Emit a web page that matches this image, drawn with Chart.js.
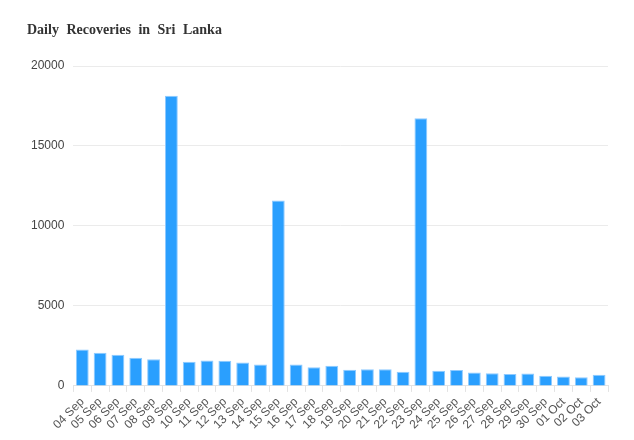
<!DOCTYPE html>
<html>
<head>
<meta charset="utf-8">
<script src="https://cdn.jsdelivr.net/npm/chart.js@4.4.0/dist/chart.umd.min.js"></script>
<style>
  html, body { margin: 0; padding: 0; background: #fff; }
  #wrap { position: relative; width: 634px; height: 440px; }
  #title {
    position: absolute; left: 27px; top: 22px;
    font: bold 14px "Liberation Serif", "DejaVu Serif", serif;
    word-spacing: 4px; color: #333;
  }
</style>
</head>
<body>
<div id="wrap">
  <div id="title">Daily Recoveries in Sri Lanka</div>
  <canvas id="recoveriesChart" width="634" height="440"></canvas>
</div>
<script>
const dates = ['04 Sep', '05 Sep', '06 Sep', '07 Sep', '08 Sep', '09 Sep', '10 Sep', '11 Sep',
  '12 Sep', '13 Sep', '14 Sep', '15 Sep', '16 Sep', '17 Sep', '18 Sep', '19 Sep', '20 Sep',
  '21 Sep', '22 Sep', '23 Sep', '24 Sep', '25 Sep', '26 Sep', '27 Sep', '28 Sep', '29 Sep',
  '30 Sep', '01 Oct', '02 Oct', '03 Oct'];
const recoveries = [2280, 2075, 1950, 1760, 1675, 18140, 1510, 1595, 1575, 1470, 1340, 11590,
  1340, 1175, 1260, 1010, 1050, 1050, 885, 16740, 950, 990, 845, 800, 740, 780, 635, 595, 550, 700];
const yTicks = [0, 5000, 10000, 15000, 20000];

document.addEventListener("DOMContentLoaded", () => {
  const ctx = document.getElementById('recoveriesChart').getContext('2d');
  new Chart(ctx, {
    type: 'bar',
    data: {
      labels: dates,
      datasets: [{
        label: 'Recoveries',
        data: recoveries,
        backgroundColor: '#2a9ffe',
        borderColor: '#8fcaff',
        borderWidth: 1
      }]
    },
    options: {
      responsive: false,
      animation: false,
      layout: { padding: { left: 22, right: 26, top: 66, bottom: 5 } },
      plugins: {
        legend: { display: false },
        tooltip: { enabled: false }
      },
      scales: {
        x: {
          grid: { drawOnChartArea: false, drawTicks: true, tickLength: 6, color: '#e3e3e3' },
          border: { color: '#e3e3e3' },
          ticks: {
            minRotation: 45, maxRotation: 45, autoSkip: false,
            color: '#555', font: { family: 'Arial, "Liberation Sans"', size: 12 }
          }
        },
        y: {
          min: 0, max: 20000,
          afterBuildTicks: axis => { axis.ticks = yTicks.map(v => ({ value: v })); },
          grid: { color: '#ebebeb', drawTicks: false, lineWidth: 1 },
          border: { display: false },
          ticks: {
            padding: 9,
            callback: v => String(v),
            color: '#444', font: { family: 'Arial, "Liberation Sans"', size: 12 }
          }
        }
      }
    }
  });
});
</script>
</body>
</html>
